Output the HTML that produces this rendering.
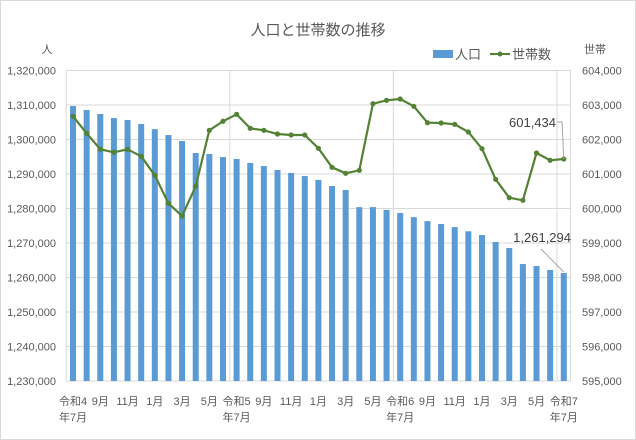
<!DOCTYPE html>
<html><head><meta charset="utf-8"><style>
body{margin:0;background:#fff}
svg{display:block;font-family:"Liberation Sans","Noto Sans CJK JP",sans-serif}
</style></head><body>
<svg id="chart" width="636" height="440" viewBox="0 0 636 440">
<rect x="0.5" y="0.5" width="635" height="439" fill="#fff" stroke="#d9d9d9"/>
<text x="318" y="35" text-anchor="middle" font-size="15" fill="#595959">人口と世帯数の推移</text>
<text x="47" y="53" text-anchor="middle" font-size="11" fill="#595959">人</text>
<text x="595" y="53" text-anchor="middle" font-size="11" fill="#595959">世帯</text>
<g>
<rect x="433" y="50" width="20" height="8" fill="#5b9bd5"/>
<text x="455" y="59" font-size="13" fill="#595959">人口</text>
<line x1="490" y1="54" x2="510" y2="54" stroke="#548235" stroke-width="2"/>
<circle cx="500" cy="54" r="2.5" fill="#548235"/>
<text x="512" y="59" font-size="13" fill="#595959">世帯数</text>
</g>
<g id="grid"></g><g id="bars"></g><g id="line"></g><g id="axes"></g>
</svg>
<script>
const categories=["令和4年7月","8月","9月","10月","11月","12月","1月","2月","3月","4月","5月","6月","令和5年7月","8月","9月","10月","11月","12月","1月","2月","3月","4月","5月","6月","令和6年7月","8月","9月","10月","11月","12月","1月","2月","3月","4月","5月","6月","令和7年7月"];
const population=[1309700,1308550,1307400,1306200,1305650,1304500,1303000,1301300,1299570,1296100,1295800,1294900,1294350,1293200,1292300,1291150,1290300,1289400,1288300,1286500,1285360,1280400,1280400,1279600,1278700,1277500,1276350,1275500,1274600,1273400,1272300,1270300,1268550,1263900,1263350,1262200,1261294];
const households=[602672,602180,601716,601630,601716,601513,600962,600150,599780,600644,602267,602528,602730,602325,602267,602159,602130,602130,601745,601194,601020,601107,603038,603135,603174,602962,602488,602478,602440,602217,601733,600846,600313,600237,601609,601397,601434];
const leftTicks=[1230000,1240000,1250000,1260000,1270000,1280000,1290000,1300000,1310000,1320000];
const rightTicks=[595000,596000,597000,598000,599000,600000,601000,602000,603000,604000];
const xLabels1=["令和4","9月","11月","1月","3月","5月","令和5","9月","11月","1月","3月","5月","令和6","9月","11月","1月","3月","5月","令和7"];
const xLabels2=["年7月","","","","","","年7月","","","","","","年7月","","","","","","年7月"];

const NS="http://www.w3.org/2000/svg";
const L=66.2,R=570.6,T=70.5,B=381;
const n=categories.length,cw=(R-L)/n;
const yL=v=>B-(v-leftTicks[0])/(leftTicks[leftTicks.length-1]-leftTicks[0])*(B-T);
const yR=v=>B-(v-rightTicks[0])/(rightTicks[rightTicks.length-1]-rightTicks[0])*(B-T);
const xC=i=>L+cw*(i+0.5);
function mk(tag,attrs,parent,text){const e=document.createElementNS(NS,tag);for(const k in attrs)e.setAttribute(k,attrs[k]);if(text!==undefined)e.textContent=text;document.getElementById(parent).appendChild(e);return e;}
const fmt=v=>v.toLocaleString("en-US");

leftTicks.forEach((v,i)=>{
 const g=mk("line",{x1:L,x2:R,y1:yL(v),y2:yL(v),stroke:"#d9d9d9"},"grid");
 
 
 const t=mk("text",{x:56,y:yL(v)+4,"text-anchor":"end","font-size":"11",fill:"#595959"},"axes",fmt(v));
 
 
});
rightTicks.forEach(v=>{
 const t=mk("text",{x:582,y:yR(v)+4,"font-size":"11",fill:"#595959"},"axes",fmt(v));
 
 
});
[0,12,24,36].forEach(i=>{
 const g=mk("line",{x1:L+cw*i,x2:L+cw*i,y1:T,y2:B+(i===0?0:0),stroke:"#d9d9d9"},"grid");
 
 
});
mk("line",{x1:R,x2:R,y1:T,y2:B,stroke:"#d9d9d9"},"grid");
population.forEach((v,i)=>{
 const r=mk("rect",{x:xC(i)-3,y:yL(v),width:6,height:B-yL(v),fill:"#5b9bd5"},"bars");
 
 
});
const pl=mk("polyline",{points:households.map((v,i)=>xC(i)+","+yR(v)).join(" "),fill:"none",stroke:"#548235","stroke-width":"2.2","stroke-linejoin":"round"},"line");


households.forEach((v,i)=>{
 const c=mk("circle",{cx:xC(i),cy:yR(v),r:2.6,fill:"#548235"},"line");
 
 
});
xLabels1.forEach((s,k)=>{
 const x=xC(k*2);
 const t=mk("text",{x:x,y:405,"text-anchor":"middle","font-size":"11",fill:"#595959"},"axes",s);
 
 
 if(xLabels2[k]){const t2=mk("text",{x:x,y:421,"text-anchor":"middle","font-size":"11",fill:"#595959"},"axes",xLabels2[k]);
 
 }
});
// data labels
const li=n-1;
const lx=xC(li);
const hl=mk("text",{x:556,y:127,"text-anchor":"end","font-size":"13",fill:"#404040"},"axes",fmt(households[li]));


mk("polyline",{points:`557,122 562,122 ${lx},${yR(households[li])}`,fill:"none",stroke:"#a6a6a6"},"axes");
const pLab=mk("text",{x:571,y:242,"text-anchor":"end","font-size":"13",fill:"#404040"},"axes",fmt(population[li]));


mk("line",{x1:541,y1:249,x2:lx,y2:yL(population[li])-1,stroke:"#a6a6a6"},"axes");
</script>
</body></html>
